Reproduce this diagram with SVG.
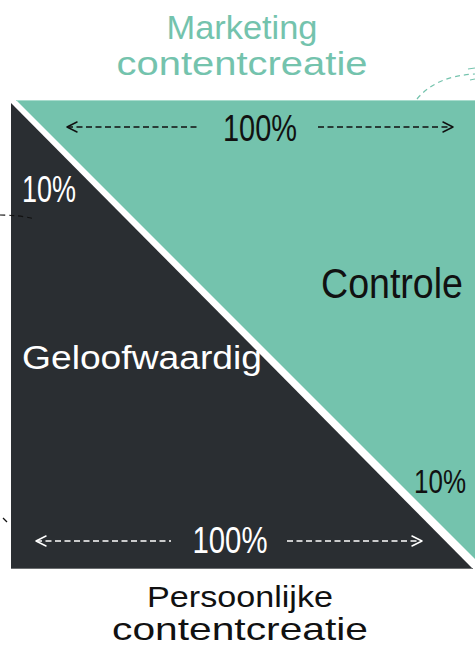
<svg xmlns="http://www.w3.org/2000/svg" width="475" height="655" viewBox="0 0 475 655">
<defs>
<style>
.t{font-family:"Liberation Sans","Noto Sans",sans-serif;}
.teal{fill:#74c3ad;}
.dark{fill:#2a2e32;}
.w{fill:#ffffff;}
.b{fill:#111111;}
.dashb{fill:none;stroke:#111;stroke-width:1.3;stroke-dasharray:6 3.5;}
.dashw{fill:none;stroke:#fff;stroke-width:1.3;stroke-dasharray:6 3.5;}
.headb{fill:none;stroke:#111;stroke-width:1.5;stroke-linecap:round;stroke-linejoin:round;}
.headw{fill:none;stroke:#fff;stroke-width:1.5;stroke-linecap:round;stroke-linejoin:round;}
</style>
</defs>
<rect width="475" height="655" fill="#ffffff"/>
<g id="marketing-area">
<polygon class="teal" points="16,100 475,100 475,559"/>
<line x1="16" y1="100.5" x2="475" y2="100.5" stroke="#a8dccd" stroke-width="1"/>
</g>
<g id="personal-area">
<polygon class="dark" points="11,103 11,569 473,569"/>
<line x1="11" y1="568.5" x2="473" y2="568.5" stroke="#6b6e70" stroke-width="1"/>
</g>
<g id="connectors">
<path class="dashb" d="M67,127 L200,127"/>
<path class="headb" d="M77,122 L67,127 L77,132"/>
<path class="dashb" d="M318,127 L453,127"/>
<path class="headb" d="M443,122 L453,127 L443,132"/>
<path class="dashw" d="M36,541 L171,541"/>
<path class="headw" d="M46,536 L36,541 L46,546"/>
<path class="dashw" d="M287,541 L422,541"/>
<path class="headw" d="M412,536 L422,541 L412,546"/>
<path d="M417,99 Q436,76 475,74" fill="none" stroke="#74c3ad" stroke-width="1.2" stroke-dasharray="5 4"/>
<path d="M468,69 L475,68 M470,80 L475,79" fill="none" stroke="#74c3ad" stroke-width="1.2"/>
<path d="M0,215 Q20,215 35,219" fill="none" stroke="#111" stroke-width="1.2" stroke-dasharray="5 4"/>
<path d="M3,518 L7,522" fill="none" stroke="#111" stroke-width="1.2"/>
</g>
<g id="title-marketing">
<text class="t" x="242" y="39" font-size="34" fill="#74c3ad" text-anchor="middle" textLength="151" lengthAdjust="spacingAndGlyphs">Marketing</text>
<text class="t" x="242" y="75" font-size="34" fill="#74c3ad" text-anchor="middle" textLength="251" lengthAdjust="spacingAndGlyphs">contentcreatie</text>
</g>
<g id="label-top-100">
<text class="t b" x="260" y="141" font-size="36" text-anchor="middle" textLength="74" lengthAdjust="spacingAndGlyphs">100%</text>
</g>
<g id="label-top-10">
<text class="t w" x="49" y="202" font-size="36" text-anchor="middle" textLength="54" lengthAdjust="spacingAndGlyphs">10%</text>
</g>
<g id="label-controle">
<text class="t b" x="321" y="298" font-size="42" textLength="142" lengthAdjust="spacingAndGlyphs">Controle</text>
</g>
<g id="label-geloofwaardig">
<text class="t w" x="22" y="369" font-size="33" textLength="240" lengthAdjust="spacingAndGlyphs">Geloofwaardig</text>
</g>
<g id="label-bottom-10">
<text class="t b" x="440" y="493" font-size="34" text-anchor="middle" textLength="52" lengthAdjust="spacingAndGlyphs">10%</text>
</g>
<g id="label-bottom-100">
<text class="t w" x="230" y="553" font-size="36" text-anchor="middle" textLength="75" lengthAdjust="spacingAndGlyphs">100%</text>
</g>
<g id="title-persoonlijke">
<text class="t b" x="240" y="607" font-size="30" text-anchor="middle" textLength="186" lengthAdjust="spacingAndGlyphs">Persoonlijke</text>
<text class="t b" x="240" y="640" font-size="32" text-anchor="middle" textLength="256" lengthAdjust="spacingAndGlyphs">contentcreatie</text>
</g>
</svg>
